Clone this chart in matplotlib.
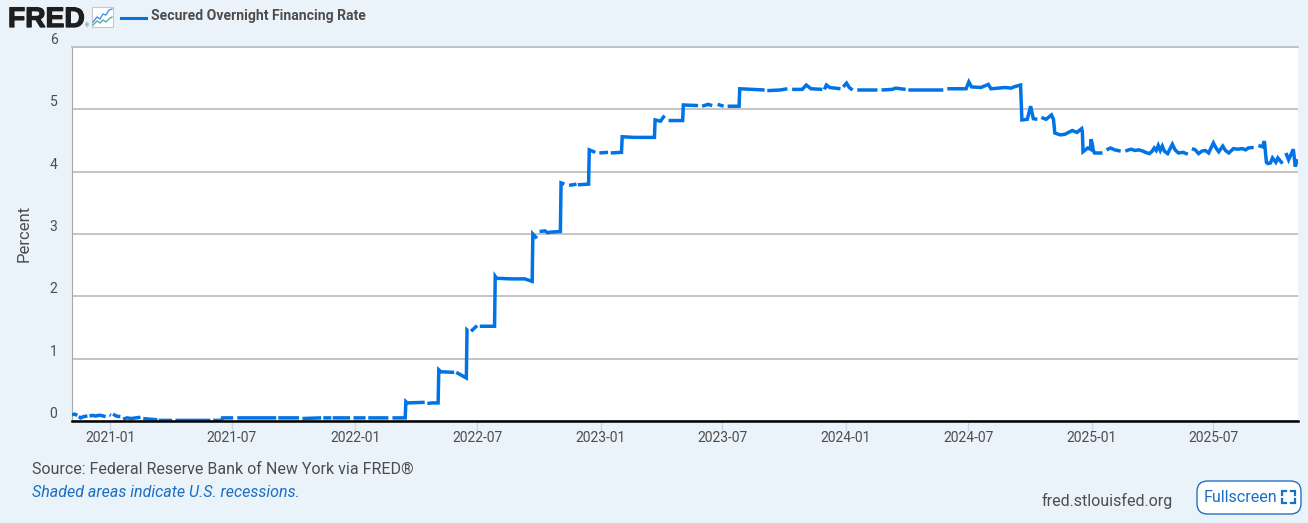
#!/usr/bin/env python3
"""FRED chart of the Secured Overnight Financing Rate, Nov 2020 - Nov 2025.
Values are read off the picture; None marks a break in the line (missing days)."""
import numpy as np
import pandas as pd
import matplotlib
matplotlib.use("Agg")
import matplotlib.pyplot as plt
import matplotlib.dates as mdates
import matplotlib.patheffects as pe
from matplotlib.patches import FancyBboxPatch, Rectangle
from matplotlib.lines import Line2D

dates_2021 = ["2020-11-05", "2020-11-09", "2020-11-13", "2020-11-13", "2020-11-15", "2020-11-18", "2020-11-22", "2020-11-28", "2020-11-28",
              "2020-12-01", "2020-12-06", "2020-12-10", "2020-12-14", "2020-12-18", "2020-12-25", "2020-12-25", "2020-12-31", "2021-01-02",
              "2021-01-02", "2021-01-05", "2021-01-10", "2021-01-16", "2021-01-16", "2021-01-20", "2021-01-26", "2021-02-01", "2021-02-08",
              "2021-02-15", "2021-02-15", "2021-02-19", "2021-02-28", "2021-03-12", "2021-03-12", "2021-03-14", "2021-04-03",
              "2021-04-03", "2021-04-08", "2021-05-30", "2021-05-30", "2021-06-03", "2021-06-16", "2021-06-17",
              "2021-07-03", "2021-07-03", "2021-07-09", "2021-09-05", "2021-09-05", "2021-09-08", "2021-10-09",
              "2021-10-09", "2021-10-14", "2021-11-11", "2021-11-11", "2021-11-14", "2021-11-26", "2021-11-26",
              "2021-11-28", "2021-12-24", "2021-12-24", "2021-12-29", "2022-01-16", "2022-01-16", "2022-01-20",
              "2022-02-19", "2022-02-19", "2022-02-25", "2022-03-16"]
rates_2021 = [0.10, 0.11, 0.09, None, 0.07, 0.05, 0.07, 0.08, None,
              0.08, 0.09, 0.08, 0.09, 0.09, 0.07, None, 0.10, 0.09,
              None, 0.11, 0.08, 0.07, None, 0.03, 0.05, 0.04, 0.05,
              0.06, None, 0.04, 0.03, 0.02, None, 0.01, 0.01,
              None, 0.01, 0.01, None, 0.01, 0.01, 0.05,
              0.05, None, 0.05, 0.05, None, 0.05, 0.05,
              None, 0.04, 0.05, None, 0.05, 0.05, None,
              0.05, 0.05, None, 0.05, 0.05, None, 0.05,
              0.05, None, 0.05, 0.05]

dates_2022 = ["2022-03-17", "2022-03-19", "2022-04-14", "2022-04-14", "2022-04-18", "2022-04-25", "2022-05-04",
              "2022-05-05", "2022-05-08", "2022-05-28", "2022-05-28", "2022-05-31", "2022-06-15", "2022-06-16",
              "2022-06-17", "2022-06-17", "2022-06-22", "2022-07-01", "2022-07-01", "2022-07-05", "2022-07-27",
              "2022-07-28", "2022-07-30", "2022-08-20", "2022-09-10", "2022-09-21", "2022-09-22", "2022-09-28",
              "2022-09-28", "2022-10-02", "2022-10-10", "2022-10-14", "2022-10-18", "2022-11-02", "2022-11-03",
              "2022-11-08", "2022-11-08", "2022-11-15", "2022-11-26", "2022-11-26", "2022-11-28", "2022-12-14",
              "2022-12-15", "2022-12-24", "2022-12-24", "2022-12-30", "2023-01-12", "2023-01-12", "2023-01-16",
              "2023-02-01"]
rates_2022 = [0.31, 0.29, 0.30, None, 0.28, 0.29, 0.29,
              0.82, 0.79, 0.78, None, 0.78, 0.69, 1.46,
              1.45, None, 1.44, 1.53, None, 1.52, 1.52,
              2.32, 2.29, 2.28, 2.28, 2.24, 3.00, 2.93,
              None, 3.04, 3.05, 3.02, 3.03, 3.04, 3.82,
              3.80, None, 3.78, 3.80, None, 3.79, 3.80,
              4.35, 4.31, None, 4.30, 4.31, None, 4.30,
              4.31]

dates_2023 = ["2023-02-02", "2023-02-20", "2023-03-22", "2023-03-23", "2023-03-31", "2023-04-06", "2023-04-06",
              "2023-04-12", "2023-05-03", "2023-05-04", "2023-05-26", "2023-05-26", "2023-06-01", "2023-06-10",
              "2023-06-16", "2023-06-16", "2023-06-24", "2023-07-03", "2023-07-03", "2023-07-09", "2023-07-26",
              "2023-07-27", "2023-09-02", "2023-09-02", "2023-09-06", "2023-09-25", "2023-10-06", "2023-10-06",
              "2023-10-13", "2023-10-28", "2023-11-03", "2023-11-10", "2023-11-27", "2023-11-27", "2023-11-30",
              "2023-12-03", "2023-12-08", "2023-12-24", "2023-12-24", "2023-12-28", "2024-01-02", "2024-01-06",
              "2024-01-11", "2024-01-11", "2024-01-18", "2024-02-17", "2024-02-17", "2024-02-23", "2024-03-10", "2024-03-15", "2024-03-30",
              "2024-03-30", "2024-04-03", "2024-05-25", "2024-05-25", "2024-05-31", "2024-06-24"]
rates_2023 = [4.56, 4.55, 4.55, 4.83, 4.81, 4.90, None,
              4.82, 4.82, 5.07, 5.06, None, 5.05, 5.08,
              5.06, None, 5.08, 5.05, None, 5.05, 5.05,
              5.33, 5.31, None, 5.30, 5.31, 5.33, None,
              5.32, 5.32, 5.39, 5.33, 5.32, None, 5.32,
              5.39, 5.35, 5.33, None, 5.36, 5.42, 5.35,
              5.31, None, 5.31, 5.31, None, 5.31, 5.32, 5.34, 5.32,
              None, 5.31, 5.31, None, 5.33, 5.33]

dates_2024 = ["2024-06-28", "2024-07-02", "2024-07-06", "2024-07-20", "2024-07-31", "2024-08-04", "2024-08-25",
              "2024-09-03", "2024-09-07", "2024-09-17", "2024-09-19", "2024-09-27", "2024-10-02", "2024-10-06",
              "2024-10-12", "2024-10-12", "2024-10-18", "2024-10-25", "2024-11-02", "2024-11-05", "2024-11-07",
              "2024-11-15", "2024-11-22", "2024-12-03", "2024-12-10", "2024-12-17", "2024-12-18", "2024-12-19",
              "2024-12-26", "2024-12-30", "2024-12-31", "2025-01-02", "2025-01-03", "2025-01-05", "2025-01-17",
              "2025-01-17", "2025-01-23", "2025-01-29", "2025-02-04", "2025-02-13", "2025-02-13"]
rates_2024 = [5.33, 5.44, 5.36, 5.35, 5.40, 5.33, 5.35,
              5.34, 5.36, 5.39, 4.83, 4.84, 5.05, 4.85,
              4.84, None, 4.87, 4.84, 4.91, 4.84, 4.62,
              4.59, 4.60, 4.66, 4.63, 4.69, 4.64, 4.32,
              4.38, 4.36, 4.52, 4.43, 4.35, 4.30, 4.30,
              None, 4.35, 4.38, 4.35, 4.33, None]

dates_2025 = ["2025-02-20", "2025-02-25", "2025-03-01", "2025-03-06", "2025-03-12", "2025-03-18", "2025-03-22", "2025-03-28",
              "2025-04-01", "2025-04-04", "2025-04-07", "2025-04-10", "2025-04-13", "2025-04-16", "2025-04-19", "2025-04-24",
              "2025-05-01", "2025-05-05", "2025-05-10", "2025-05-17", "2025-05-24", "2025-05-24",
              "2025-05-30", "2025-06-04", "2025-06-09", "2025-06-14", "2025-06-19", "2025-06-24", "2025-07-01", "2025-07-05", "2025-07-09",
              "2025-07-15", "2025-07-19", "2025-07-24", "2025-07-31", "2025-08-06", "2025-08-13", "2025-08-18", "2025-08-22", "2025-08-30",
              "2025-08-30", "2025-09-06", "2025-09-12", "2025-09-15", "2025-09-18", "2025-09-20", "2025-09-24", "2025-09-27", "2025-10-02",
              "2025-10-05", "2025-10-12", "2025-10-12", "2025-10-17", "2025-10-21", "2025-10-28", "2025-10-31",
              "2025-11-03"]
rates_2025 = [4.33, 4.35, 4.36, 4.34, 4.35, 4.33, 4.31, 4.29,
              4.33, 4.38, 4.34, 4.42, 4.34, 4.41, 4.33, 4.29,
              4.44, 4.35, 4.30, 4.31, 4.28, None,
              4.37, 4.35, 4.29, 4.33, 4.34, 4.30, 4.46, 4.38, 4.32,
              4.41, 4.34, 4.30, 4.37, 4.36, 4.37, 4.35, 4.38, 4.39,
              None, 4.42, 4.40, 4.49, 4.15, 4.13, 4.14, 4.22, 4.15,
              4.22, 4.13, None, 4.30, 4.19, 4.36, 4.08,
              4.20]

y_ticks = [0, 1, 2, 3, 4, 5, 6]
x_ticks = ["2021-01-01", "2021-07-01", "2022-01-01", "2022-07-01", "2023-01-01", "2023-07-01",
           "2024-01-01", "2024-07-01", "2025-01-01", "2025-07-01"]
series_name = "Secured Overnight Financing Rate"

BG = "#eaf2fa"
LINE = "#0073e6"
TEXT = "#4d4d4d"
LINK = "#1a6fc4"
W, H = 1308, 523

plt.rcParams["font.family"] = ["Roboto", "DejaVu Sans"]

dates = pd.to_datetime(dates_2021 + dates_2022 + dates_2023 + dates_2024 + dates_2025)
rates = np.array(rates_2021 + rates_2022 + rates_2023 + rates_2024 + rates_2025, dtype=float)

fig = plt.figure(figsize=(W / 100, H / 100), dpi=100, facecolor=BG)
ax = fig.add_axes([72 / W, 1 - 421 / H, (1298 - 72) / W, (421 - 47) / H], facecolor="white")

ax.plot(dates, rates, color=LINE, lw=2.5, solid_capstyle="butt", solid_joinstyle="miter", zorder=3)
ax.set_xlim(pd.Timestamp("2020-11-05"), pd.Timestamp("2025-11-04"))
ax.set_ylim(0, 6)

ax.set_yticks(y_ticks)
ax.set_xticks(pd.to_datetime(x_ticks))
ax.xaxis.set_major_formatter(mdates.DateFormatter("%Y-%m"))
ax.grid(axis="y", color="#c0c0c0", lw=1.3, zorder=1)
ax.set_axisbelow(True)
ax.tick_params(axis="y", length=0, pad=10.5, labelsize=10, labelcolor=TEXT)
ax.tick_params(axis="x", length=7, width=1, color="#ccd6eb", pad=0.5, labelsize=10, labelcolor=TEXT)
for lab in ax.get_yticklabels():
    lab.set_va("bottom")

ax.spines["right"].set_visible(False)
ax.spines["top"].set_color("#c0c0c0")
ax.spines["top"].set_linewidth(1.3)
ax.spines["left"].set_color("#a8a8a8")
ax.spines["left"].set_linewidth(0.8)
ax.spines["bottom"].set_color("black")
ax.spines["bottom"].set_linewidth(1.8)
ax.spines["bottom"].set_zorder(5)

def fx(px):
    return px / W

def fy(py):
    return 1 - py / H

fig.text(fx(24.5), fy(233), "Percent", rotation=90, ha="center", va="center", fontsize=12, color=TEXT)

# header: logo, icon, legend
logo = fig.text(fx(8), fy(27), "FRED", fontsize=20.3, fontweight="bold", family=["Liberation Sans"],
                color="#1e1e1e", va="baseline")
logo.set_path_effects([pe.withStroke(linewidth=0.9, foreground="#1e1e1e")])
fig.text(fx(85), fy(27.5), "®", fontsize=3.5, color="#555555", va="baseline")
fig.add_artist(Rectangle((fx(92), fy(27)), 21 / W, 20 / H, transform=fig.transFigure, fc="white", ec="#c8c8c8", lw=0.8))
icon_x = [93, 97, 100, 103, 106, 109, 112]
fig.add_artist(Line2D([fx(v) for v in icon_x], [fy(v) for v in [22, 17, 19, 14, 15, 10, 9]],
                      color="#4a90e2", lw=1, transform=fig.transFigure))
fig.add_artist(Line2D([fx(v) for v in icon_x], [fy(v) for v in [25, 21, 23, 20, 22, 19, 17]],
                      color="#4fb3a5", lw=1, transform=fig.transFigure))
fig.add_artist(Line2D([fx(121), fx(146)], [fy(17.5), fy(17.5)], color=LINE, lw=2.2, transform=fig.transFigure))
fig.text(fx(151), fy(16.5), series_name, fontsize=10.05, fontweight="bold", color=TEXT, va="center")

# footer
fig.text(fx(32), fy(469.5), "Source: Federal Reserve Bank of New York via FRED®", fontsize=11.55, color=TEXT, va="center")
fig.text(fx(32), fy(492.5), "Shaded areas indicate U.S. recessions.", fontsize=11.55, style="italic", color=LINK, va="center")
fig.text(fx(1173), fy(500.5), "fred.stlouisfed.org", fontsize=11.55, color=TEXT, ha="right", va="center")

fig.add_artist(FancyBboxPatch((fx(1197), fy(514)), 104 / W, 33 / H, transform=fig.transFigure,
                              boxstyle="round,pad=0,rounding_size=0.008", mutation_aspect=W / H,
                              fc="white", ec="#0a66c2", lw=0.9))
fig.text(fx(1204), fy(497), "Fullscreen", fontsize=11.6, color=LINK, va="center")
# corner brackets of the fullscreen icon
for cx, cy, dx, dy in [(1282, 491, 1, 1), (1295, 491, -1, 1), (1282, 503, 1, -1), (1295, 503, -1, -1)]:
    fig.add_artist(Line2D([fx(cx + 4 * dx), fx(cx), fx(cx)], [fy(cy), fy(cy), fy(cy + 4 * dy)],
                          color=LINK, lw=1.6, solid_joinstyle="miter", transform=fig.transFigure))

fig.savefig("out.png", dpi=100, facecolor=BG)
